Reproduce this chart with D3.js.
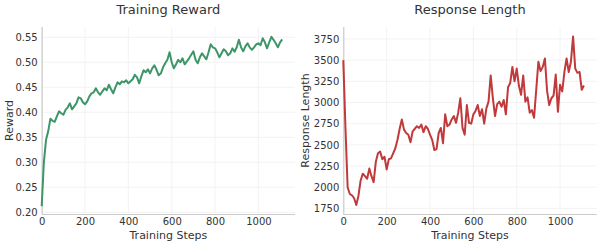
<!DOCTYPE html>
<html>
<head>
<meta charset="utf-8">
<script src="https://cdn.jsdelivr.net/npm/d3@7"></script>
<style>
  body { margin: 0; background: #fff; }
  text { font-family: "DejaVu Sans", sans-serif; fill: #333; }
</style>
</head>
<body>
<div id="chart-area"></div>
<script>
// training steps, sampled every 10
var steps = d3.range(0, 1120, 10);

var rewardValues = [
  0.212, 0.300, 0.345, 0.362, 0.387, 0.383, 0.381, 0.392, 0.402, 0.398,
  0.395, 0.405, 0.410, 0.418, 0.406, 0.412, 0.418, 0.430, 0.428, 0.420,
  0.416, 0.422, 0.432, 0.438, 0.440, 0.448, 0.440, 0.435, 0.442, 0.448,
  0.444, 0.455, 0.446, 0.438, 0.450, 0.460, 0.456, 0.462, 0.460, 0.464,
  0.458, 0.462, 0.466, 0.475, 0.470, 0.458, 0.472, 0.484, 0.480, 0.486,
  0.478, 0.488, 0.494, 0.485, 0.474, 0.478, 0.490, 0.498, 0.505, 0.520,
  0.500, 0.488, 0.496, 0.505, 0.500, 0.508, 0.496, 0.502, 0.508, 0.515,
  0.522, 0.505, 0.498, 0.510, 0.518, 0.512, 0.506, 0.520, 0.536, 0.530,
  0.528, 0.520, 0.510, 0.518, 0.526, 0.522, 0.514, 0.518, 0.528, 0.521,
  0.530, 0.545, 0.530, 0.522, 0.532, 0.538, 0.530, 0.525, 0.530, 0.536,
  0.538, 0.534, 0.548, 0.540, 0.528, 0.540, 0.551, 0.545, 0.538, 0.530,
  0.540, 0.546
];

var lengthValues = [
  3500, 2700, 2000, 1920, 1905, 1870, 1790, 1900, 2080, 2160,
  2130, 2100, 2220, 2130, 2060, 2300, 2400, 2420, 2330, 2360,
  2210, 2330, 2340, 2400, 2460, 2560, 2690, 2800, 2680, 2640,
  2620, 2530, 2660, 2690, 2720, 2700, 2740, 2650, 2720, 2690,
  2620, 2560, 2440, 2450, 2640, 2700, 2520, 2860, 2720, 2740,
  2800, 2840, 2760, 2880, 3050, 2700, 2620, 2970, 2760, 2750,
  2860, 2900, 2970, 2840, 2920, 2750, 2930, 3010, 3320, 3050,
  2840, 2980, 3010, 2950, 3030, 2860, 3180, 3230, 3420, 3250,
  3400, 3200, 3090, 3320, 3010, 3060, 2880, 2910, 2820, 3150,
  3480, 3370, 3420, 3520, 3140, 2970, 3050, 3080, 3330, 2890,
  3210, 3130, 3360, 3520, 3360, 3480, 3780, 3400, 3350, 3360,
  3150, 3200
];

var xTicks = [0, 200, 400, 600, 800, 1000];
var rewardTicks = [0.20, 0.25, 0.30, 0.35, 0.40, 0.45, 0.50, 0.55];
var lengthTicks = [1750, 2000, 2250, 2500, 2750, 3000, 3250, 3500, 3750];

var svg = d3.select('#chart-area').append('svg')
    .attr('width', 602)
    .attr('height', 246);

function drawPanel(opts) {
  var left = opts.left, right = opts.right, top = 27, bottom = 214;

  var x = d3.scaleLinear().domain([0, 1169]).range([left, right]);
  var y = d3.scaleLinear().domain(opts.yDomain).range([bottom, top]);

  var g = svg.append('g');

  // grid
  g.selectAll('.vgrid').data(xTicks).enter().append('line')
    .attr('x1', function(d){ return x(d); })
    .attr('x2', function(d){ return x(d); })
    .attr('y1', top).attr('y2', bottom)
    .attr('stroke', '#f0f0f0').attr('stroke-width', 0.8);
  g.selectAll('.hgrid').data(opts.yTicks).enter().append('line')
    .attr('x1', left).attr('x2', right)
    .attr('y1', function(d){ return y(d); })
    .attr('y2', function(d){ return y(d); })
    .attr('stroke', '#f0f0f0').attr('stroke-width', 0.8);

  // axes
  var xAxis = g.append('g')
    .attr('transform', 'translate(0,' + bottom + ')')
    .call(d3.axisBottom(x).tickValues(xTicks).tickSize(0).tickPadding(4)
      .tickFormat(d3.format('d')));
  var yAxis = g.append('g')
    .attr('transform', 'translate(' + left + ',0)')
    .call(d3.axisLeft(y).tickValues(opts.yTicks).tickSize(0).tickPadding(4)
      .tickFormat(opts.fmt));

  [xAxis, yAxis].forEach(function(a){
    a.select('.domain').attr('stroke', '#cccccc').attr('stroke-width', 1.2);
    a.selectAll('text').attr('font-size', '10px')
      .attr('font-family', '"DejaVu Sans", sans-serif').attr('fill', '#333');
  });
  yAxis.select('.domain').attr('d', 'M0.5,' + top + 'V' + bottom);
  xAxis.select('.domain').attr('d', 'M' + left + ',0.5H' + right);

  // line
  var line = d3.line()
    .x(function(d, i){ return x(steps[i]); })
    .y(function(d){ return y(d); });

  g.append('path')
    .datum(opts.values)
    .attr('fill', 'none')
    .attr('stroke', opts.color)
    .attr('stroke-width', 2)
    .attr('stroke-linejoin', 'round')
    .attr('d', line);

  // title
  g.append('text')
    .attr('x', (left + right) / 2).attr('y', 14)
    .attr('text-anchor', 'middle')
    .attr('font-size', '13px')
    .text(opts.title);

  // x label
  g.append('text')
    .attr('x', (left + right) / 2).attr('y', 239)
    .attr('text-anchor', 'middle')
    .attr('font-size', '11px')
    .text('Training Steps');

  // y label
  g.append('text')
    .attr('transform', 'translate(' + opts.ylabelX + ',' + ((top + bottom) / 2) + ') rotate(-90)')
    .attr('text-anchor', 'middle')
    .attr('font-size', '11px')
    .text(opts.ylabel);
}

drawPanel({
  left: 41.7, right: 295,
  yDomain: [0.1966, 0.5706],
  yTicks: rewardTicks,
  fmt: d3.format('.2f'),
  values: rewardValues,
  color: '#3d9668',
  title: 'Training Reward',
  ylabel: 'Reward',
  ylabelX: 13
});

drawPanel({
  left: 343.3, right: 596.7,
  yDomain: [1684, 3891],
  yTicks: lengthTicks,
  fmt: d3.format('d'),
  values: lengthValues,
  color: '#c0393b',
  title: 'Response Length',
  ylabel: 'Response Length',
  ylabelX: 309
});
</script>
</body>
</html>
